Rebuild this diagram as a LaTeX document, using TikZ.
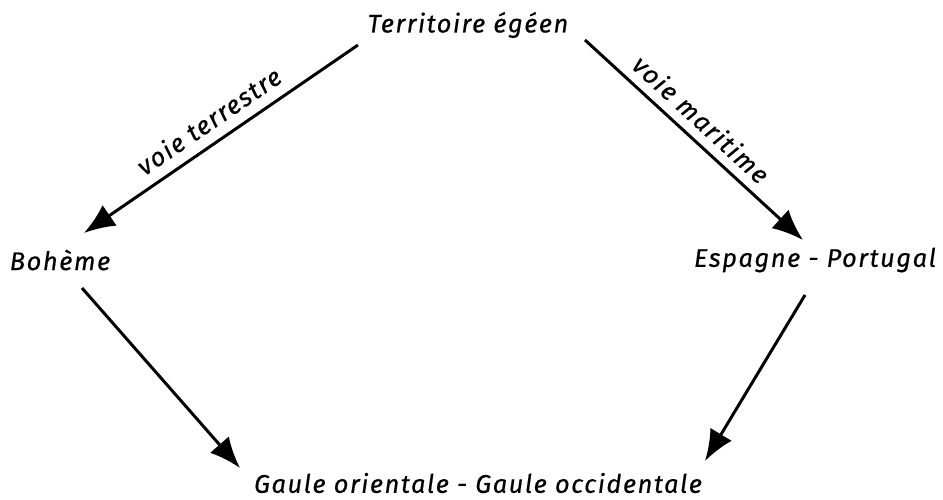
\documentclass[tikz,border=0pt]{standalone}
\usepackage{fontspec}
\setmainfont{Fira Sans}[LetterSpace=6, FakeBold=0.5]
\usepackage{tikz}
\usetikzlibrary{arrows.meta}

\begin{document}
\begin{tikzpicture}[
  x=0.02cm, y=-0.02cm,
  every node/.style={font=\itshape\fontsize{14.5}{17}\selectfont, inner sep=2pt},
  route/.style={draw, line width=1.7pt, -{Latex[length=0.62cm, width=0.5cm]}}
]
\useasboundingbox (0,0) rectangle (943,500);

\node (terr) at (468,25) {Territoire égéen};
\node (boheme) at (60,260) {Bohème};
\node (espagne) at (815,260) {Espagne - Portugal};
\node (gaule) at (478,483) {Gaule orientale - Gaule occidentale};

% ends of the arrows
\coordinate (t1) at (358,45);
\coordinate (t2) at (585,40);
\coordinate (b0) at (84,233);
\coordinate (b1) at (82,288);
\coordinate (e0) at (803,240);
\coordinate (e1) at (805,295);
\coordinate (g1) at (240,468);
\coordinate (g2) at (705,461);

\draw[route] (t1) -- node[sloped, above=4pt, pos=0.5] {voie terrestre} (b0);
\draw[route] (t2) -- node[sloped, above=3pt, pos=0.47] {voie maritime} (e0);
\draw[route] (b1) -- (g1);
\draw[route] (e1) -- (g2);

\end{tikzpicture}
\end{document}
